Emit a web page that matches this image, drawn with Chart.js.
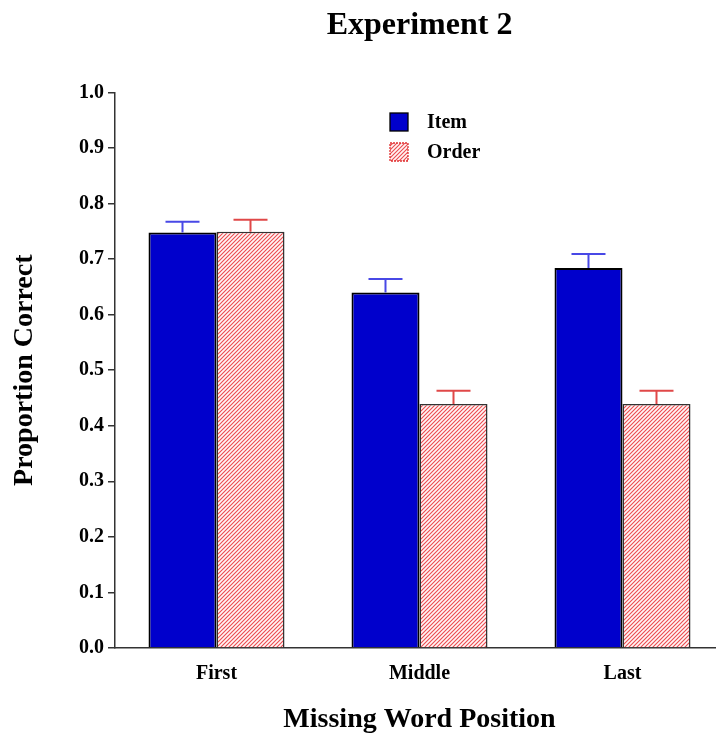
<!DOCTYPE html>
<html>
<head>
<meta charset="utf-8">
<script src="https://cdn.jsdelivr.net/npm/chart.js@4.4.0/dist/chart.umd.min.js"></script>
<style>
  body { margin: 0; background: white; overflow: hidden; }
  #wrap { width: 724px; height: 738px; }
</style>
</head>
<body>
<div id="wrap"><canvas id="grafico" width="724" height="738"></canvas></div>
<script>
// datos
const categories = ['First', 'Middle', 'Last'];
const itemValues = [0.748, 0.640, 0.684];
const orderValues = [0.749, 0.439, 0.439];
const itemErrors = [0.019, 0.024, 0.025];
const orderErrors = [0.022, 0.024, 0.024];
const yTicks = [0, 0.1, 0.2, 0.3, 0.4, 0.5, 0.6, 0.7, 0.8, 0.9, 1.0];

const fuente = '"Liberation Serif", "DejaVu Serif", serif';

// rayado rojo para "Order"
function rayado() {
  var c = document.createElement('canvas');
  c.width = 4; c.height = 4;
  var g = c.getContext('2d');
  g.fillStyle = '#fff6f6';
  g.fillRect(0, 0, 4, 4);
  g.strokeStyle = '#ec4a4e';
  g.lineWidth = 1.1;
  g.beginPath();
  g.moveTo(0, 4); g.lineTo(4, 0);
  g.moveTo(-1, 1); g.lineTo(1, -1);
  g.moveTo(3, 5); g.lineTo(5, 3);
  g.stroke();
  return g.createPattern(c, 'repeat');
}
var patron = rayado();

const errores = [itemErrors, orderErrors];
const colorError = ['#4848e6', '#e04848'];

// barras de error
const errorBars = {
  id: 'errorBars',
  afterDatasetsDraw(chart) {
    var ctx = chart.ctx;
    var y = chart.scales.y;
    chart.data.datasets.forEach(function(ds, i) {
      var meta = chart.getDatasetMeta(i);
      meta.data.forEach(function(bar, j) {
        var top = y.getPixelForValue(ds.data[j] + errores[i][j]);
        ctx.save();
        ctx.strokeStyle = colorError[i];
        ctx.lineWidth = 2;
        ctx.beginPath();
        ctx.moveTo(bar.x, bar.y);
        ctx.lineTo(bar.x, top);
        ctx.moveTo(bar.x - 17, top);
        ctx.lineTo(bar.x + 17, top);
        ctx.stroke();
        ctx.restore();
      });
    });
  }
};

// leyenda dentro del area
const leyenda = {
  id: 'leyenda',
  afterDraw(chart) {
    var ctx = chart.ctx;
    chart.data.datasets.forEach(function(ds, i) {
      var bx = 390, by = 113 + i * 30;
      ctx.save();
      ctx.fillStyle = ds.backgroundColor;
      ctx.fillRect(bx, by, 18, 18);
      ctx.strokeStyle = i == 0 ? '#000' : '#e03030';
      ctx.lineWidth = 1.3;
      if (i == 1) ctx.setLineDash([2, 1]);
      ctx.strokeRect(bx, by, 18, 18);
      ctx.setLineDash([]);
      ctx.fillStyle = '#000';
      ctx.font = 'bold 20px ' + fuente;
      ctx.textBaseline = 'middle';
      ctx.fillText(ds.label, 427, by + 10);
      ctx.restore();
    });
  }
};

new Chart(document.getElementById('grafico'), {
  type: 'bar',
  data: {
    labels: categories,
    datasets: [
      {
        label: 'Item',
        data: itemValues,
        backgroundColor: '#0000cc',
        borderColor: '#000',
        borderWidth: 2,
        borderSkipped: 'bottom',
      },
      {
        label: 'Order',
        data: orderValues,
        backgroundColor: patron,
        borderColor: '#333',
        borderWidth: 1.5,
        borderSkipped: 'bottom',
      },
    ],
  },
  options: {
    responsive: false,
    animation: false,
    categoryPercentage: 0.67,
    barPercentage: 1.0,
    layout: { padding: 0 },
    plugins: {
      legend: { display: false },
      tooltip: { enabled: false },
      title: {
        display: true,
        text: 'Experiment 2',
        fullSize: false,
        color: '#000',
        font: { family: fuente, size: 32, weight: 'bold' },
        padding: { top: 7, bottom: 47 },
      },
    },
    scales: {
      x: {
        afterFit: function(s) { s.height = 90; },
        grid: { display: false, drawTicks: false },
        border: { display: true, color: '#333', width: 1.5 },
        ticks: {
          color: '#000',
          padding: 14,
          font: { family: fuente, size: 20, weight: 'bold' },
        },
        title: {
          display: true,
          text: 'Missing Word Position',
          color: '#000',
          font: { family: fuente, size: 28, weight: 'bold' },
          padding: { top: 0, bottom: 1 },
        },
      },
      y: {
        min: 0,
        max: 1,
        afterFit: function(s) { s.width = 115; },
        afterBuildTicks: function(s) { s.ticks = yTicks.map(v => ({ value: v })); },
        grid: { drawOnChartArea: false, tickLength: 7, color: '#333', lineWidth: 1.5 },
        border: { color: '#333', width: 1.5 },
        ticks: {
          color: '#000',
          padding: 4,
          font: { family: fuente, size: 20, weight: 'bold' },
          callback: function(v) { return Number(v).toFixed(1); },
        },
        title: {
          display: true,
          text: 'Proportion Correct',
          color: '#000',
          font: { family: fuente, size: 28, weight: 'bold' },
          padding: { top: 8, bottom: 0 },
        },
      },
    },
  },
  plugins: [errorBars, leyenda],
});
</script>
</body>
</html>
